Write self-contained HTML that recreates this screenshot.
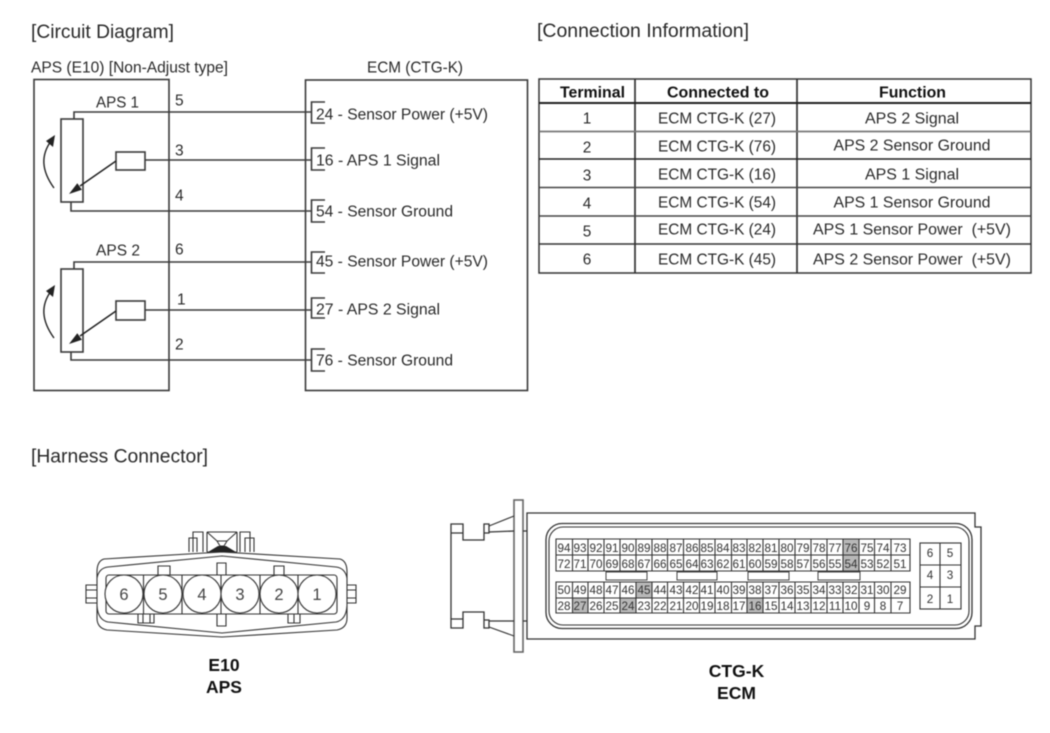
<!DOCTYPE html>
<html lang="en">
<head>
<meta charset="utf-8">
<title>APS Circuit Diagram</title>
<style>
html,body{margin:0;padding:0;background:#fff;width:1050px;height:733px;overflow:hidden}
svg{display:block;filter:blur(.45px)}
text{font-family:"Liberation Sans",sans-serif;fill:#2a2a2a}
.t{font-size:19px;transform:translateY(1px)}
.m{font-size:15.5px;transform:translateY(.7px)}
.h{font-size:15.5px;font-weight:bold;fill:#111;text-anchor:middle;transform:translateY(.7px)}
.c{font-size:15.4px;text-anchor:middle;transform:translateY(.7px)}
.n{font-size:11.7px;text-anchor:middle;fill:#333}
.d{font-size:16.5px;text-anchor:middle;fill:#444}
.b{font-size:17.5px;font-weight:bold;text-anchor:middle;fill:#111}
.l{fill:none;stroke:#333;stroke-width:1.3}
.w{fill:none;stroke:#3a3a3a;stroke-width:1.6}
.f{fill:none;stroke:#333;stroke-width:1.1}
</style>
</head>
<body>
<svg width="1050" height="733" viewBox="0 0 1050 733" xmlns="http://www.w3.org/2000/svg">
<rect width="1050" height="733" fill="#fff"/>

<!-- Headings -->
<text class="t" x="31" y="37" textLength="143" lengthAdjust="spacingAndGlyphs">[Circuit Diagram]</text>
<text class="t" x="537" y="36" textLength="212" lengthAdjust="spacingAndGlyphs">[Connection Information]</text>
<text class="t" x="31" y="461.5" textLength="177" lengthAdjust="spacingAndGlyphs">[Harness Connector]</text>
<text class="m" x="31" y="72" textLength="197" lengthAdjust="spacingAndGlyphs">APS (E10) [Non-Adjust type]</text>
<text class="m" x="367" y="72" textLength="96" lengthAdjust="spacingAndGlyphs">ECM (CTG-K)</text>

<!-- Circuit boxes -->
<rect x="34" y="79.5" width="135" height="311" class="w"/>
<rect x="305.5" y="80" width="222" height="310.5" class="w"/>

<!-- Wires -->
<path class="w" d="M74 119V112H311M145 160H311M71 202V211H311M74 269V262H311M145 310H311M71 352V360H311"/>

<!-- Pots and boxes -->
<rect x="61" y="119" width="22" height="83" class="w" fill="none"/>
<rect x="61" y="269" width="22" height="83" class="w" fill="none"/>
<rect x="116" y="152" width="29" height="18" class="w"/>
<rect x="116" y="301" width="29" height="19" class="w"/>

<!-- Wiper arrows -->
<path d="M116 161L80 186" stroke="#222" stroke-width="1.5" fill="none"/>
<polygon points="69,194 77.3,183.3 81.9,189.7" fill="#222"/>
<path d="M116 311L80 336" stroke="#222" stroke-width="1.5" fill="none"/>
<polygon points="69,344 77.3,333.3 81.9,339.7" fill="#222"/>

<!-- Curved arrows -->
<path d="M54 188C41 170 41 155 51 141" stroke="#222" stroke-width="1.4" fill="none"/>
<polygon points="55,135 53,147 46,141" fill="#222"/>
<path d="M54 338C41 320 41 305 51 291" stroke="#222" stroke-width="1.4" fill="none"/>
<polygon points="55,285 53,297 46,291" fill="#222"/>

<!-- Wire labels -->
<text class="m" x="96" y="107" textLength="43" lengthAdjust="spacingAndGlyphs">APS 1</text>
<text class="m" x="96" y="255" textLength="44" lengthAdjust="spacingAndGlyphs">APS 2</text>
<text class="m" x="175" y="105">5</text>
<text class="m" x="175" y="155">3</text>
<text class="m" x="175" y="200">4</text>
<text class="m" x="175" y="254">6</text>
<text class="m" x="177" y="304">1</text>
<text class="m" x="175" y="349">2</text>

<!-- ECM terminals -->
<path class="w" d="M325 102H311.5V123H325M325 148H311.5V170H325M325 200H311.5V222H325M325 252H311.5V273H325M325 298H311.5V318H325M325 349H311.5V371H325"/>
<text class="m" x="316" y="119" textLength="172" lengthAdjust="spacingAndGlyphs">24 - Sensor Power (+5V)</text>
<text class="m" x="316" y="165" textLength="124" lengthAdjust="spacingAndGlyphs">16 - APS 1 Signal</text>
<text class="m" x="316" y="216" textLength="137" lengthAdjust="spacingAndGlyphs">54 - Sensor Ground</text>
<text class="m" x="316" y="266" textLength="172" lengthAdjust="spacingAndGlyphs">45 - Sensor Power (+5V)</text>
<text class="m" x="316" y="314" textLength="124" lengthAdjust="spacingAndGlyphs">27 - APS 2 Signal</text>
<text class="m" x="316" y="365" textLength="137" lengthAdjust="spacingAndGlyphs">76 - Sensor Ground</text>

<!-- Table -->
<rect x="539" y="79" width="492" height="194" fill="none" stroke="#333" stroke-width="1.5"/>
<path d="M635 79V273M797 79V273" stroke="#333" stroke-width="1.7" fill="none"/>
<path d="M539 103H1031" stroke="#222" stroke-width="2.1"/>
<path d="M539 131.5H1031" stroke="#777" stroke-width="1.7"/>
<path d="M539 159H1031" stroke="#222" stroke-width="1.4"/>
<path d="M539 187.5H1031M539 216H1031" stroke="#444" stroke-width="1.4"/>
<path d="M539 244H1031" stroke="#333" stroke-width="1.6"/>
<text class="h" x="592.5" y="97" textLength="65" lengthAdjust="spacingAndGlyphs">Terminal</text>
<text class="h" x="718" y="97" textLength="102" lengthAdjust="spacingAndGlyphs">Connected to</text>
<text class="h" x="912.5" y="97" textLength="67" lengthAdjust="spacingAndGlyphs">Function</text>

<text class="c" x="587" y="123">1</text>
<text class="c" x="587" y="152">2</text>
<text class="c" x="587" y="180">3</text>
<text class="c" x="587" y="208">4</text>
<text class="c" x="587" y="236">5</text>
<text class="c" x="587" y="264">6</text>

<text class="c" x="717" y="123" textLength="118" lengthAdjust="spacingAndGlyphs">ECM CTG-K (27)</text>
<text class="c" x="717" y="151" textLength="118" lengthAdjust="spacingAndGlyphs">ECM CTG-K (76)</text>
<text class="c" x="717" y="179" textLength="118" lengthAdjust="spacingAndGlyphs">ECM CTG-K (16)</text>
<text class="c" x="717" y="207" textLength="118" lengthAdjust="spacingAndGlyphs">ECM CTG-K (54)</text>
<text class="c" x="717" y="234" textLength="118" lengthAdjust="spacingAndGlyphs">ECM CTG-K (24)</text>
<text class="c" x="717" y="264" textLength="118" lengthAdjust="spacingAndGlyphs">ECM CTG-K (45)</text>

<text class="c" x="912" y="123" textLength="94" lengthAdjust="spacingAndGlyphs">APS 2 Signal</text>
<text class="c" x="912" y="150" textLength="157" lengthAdjust="spacingAndGlyphs">APS 2 Sensor Ground</text>
<text class="c" x="912" y="179" textLength="94" lengthAdjust="spacingAndGlyphs">APS 1 Signal</text>
<text class="c" x="912" y="207" textLength="157" lengthAdjust="spacingAndGlyphs">APS 1 Sensor Ground</text>
<text class="c" x="912" y="234" textLength="198" lengthAdjust="spacingAndGlyphs" xml:space="preserve">APS 1 Sensor Power  (+5V)</text>
<text class="c" x="912" y="264" textLength="198" lengthAdjust="spacingAndGlyphs" xml:space="preserve">APS 2 Sensor Power  (+5V)</text>

<!-- E10 connector -->
<path class="f" d="M104 559L222 552L340 559Q347 561 347 572V618Q347 628 337 630L222 637L107 630Q97 628 97 618V572Q97 561 104 559Z"/>
<path class="f" d="M97 578Q99 568 108 567L222 556L336 567Q345 568 347 578"/>
<path class="f" d="M97 606Q98 620 108 622L222 633L336 622Q346 620 347 606"/>
<rect x="106" y="575" width="231" height="39" rx="3" class="f"/>
<path class="f" d="M143.5 575V614M182 575V614M221 575V614M260 575V614M298 575V614"/>
<path class="f" d="M158 575V566H170V575M274 575V566H284V575M217 575V563H226V575M217 614V626H226V614M138 614V623H150V614M143 614V623M145 623H154V614M288 614V623H300V614M294 614V623"/>
<path class="f" d="M97 585H86V603H97M86 590H97M86 598H97M347 585H356V603H347M347 590H356M347 598H356"/>
<path class="f" d="M193 552V532H203V552M189 552V538H197V552M250 552V532H240V552M254 552V538H245V552"/>
<path class="f" d="M207 532H237M207 532L217 541H227L237 532M217 541L220 546H224L227 541M207 552H237M207 532V552M237 532V552"/>
<polygon points="208,552 218,546 226,546 236,552" fill="#222"/>
<g fill="#fff" stroke="#333" stroke-width="1.1">
<circle cx="124" cy="594" r="19"/><circle cx="163" cy="594" r="19"/><circle cx="202" cy="594" r="19"/>
<circle cx="240" cy="594" r="19"/><circle cx="279" cy="594" r="19"/><circle cx="317" cy="594" r="19"/>
</g>
<text class="d" x="124" y="600">6</text><text class="d" x="163" y="600">5</text><text class="d" x="202" y="600">4</text>
<text class="d" x="240" y="600">3</text><text class="d" x="279" y="600">2</text><text class="d" x="317" y="600">1</text>
<text class="b" x="224" y="671">E10</text>
<text class="b" x="224" y="693">APS</text>

<!-- ECM connector body -->
<path class="l" d="M527 513H975V527H981V626H975V639H527Z"/>
<rect x="546" y="523.5" width="426" height="105" rx="16" class="l"/>
<rect x="549" y="527" width="420" height="98" rx="14" class="f"/>
<rect x="514" y="500" width="9" height="152" fill="none" stroke="#666" stroke-width="1.6"/>
<path class="l" d="M523 531H527M523 621H527"/>
<path class="l" d="M451 524H463V533H451ZM463 533V540H484V533M484 524H489V533H484ZM489 532L514 531M451 533V619"/>
<path class="l" d="M451 619H463V628H451ZM463 619V612H484V620M484 620H489V628H484ZM489 621L514 621"/>
<path class="f" d="M489 526L514 516M489 627L514 636"/>

<!-- Shaded pins -->
<g fill="#b8b8b8">
<rect x="843" y="539" width="16" height="32"/>
<rect x="636" y="582" width="16" height="16"/>
<rect x="572.5" y="598" width="15.5" height="15"/>
<rect x="620" y="598" width="16" height="15"/>
<rect x="747" y="598" width="16" height="15"/>
</g>

<!-- Pin grids -->
<path class="f" d="M556 539H910V571H556ZM556 555H910M556 582H910V613H556ZM556 598H910"/>
<path class="f" d="M572.5 539V571M588 539V571M604 539V571M620 539V571M636 539V571M652 539V571M667.5 539V571M683.5 539V571M699.5 539V571M715 539V571M731.5 539V571M747 539V571M763 539V571M779 539V571M795 539V571M811 539V571M827 539V571M843 539V571M859 539V571M874.5 539V571M891 539V571"/>
<path class="f" d="M572.5 582V613M588 582V613M604 582V613M620 582V613M636 582V613M652 582V613M667.5 582V613M683.5 582V613M699.5 582V613M715 582V613M731.5 582V613M747 582V613M763 582V613M779 582V613M795 582V613M811 582V613M827 582V613M843 582V613M859 582V613M874.5 582V613M891 582V613"/>
<g fill="#fff" stroke="#444" stroke-width="1">
<rect x="606" y="572" width="41" height="8"/><rect x="677" y="572" width="40" height="8"/>
<rect x="748" y="572" width="41" height="8"/><rect x="818" y="572" width="42" height="8"/>
</g>

<g class="n">
<text class="n" x="564" y="552">94</text><text class="n" x="580" y="552">93</text><text class="n" x="596" y="552">92</text><text class="n" x="612" y="552">91</text><text class="n" x="628" y="552">90</text><text class="n" x="644" y="552">89</text><text class="n" x="660" y="552">88</text><text class="n" x="676" y="552">87</text><text class="n" x="692" y="552">86</text><text class="n" x="707" y="552">85</text><text class="n" x="723" y="552">84</text><text class="n" x="739" y="552">83</text><text class="n" x="755" y="552">82</text><text class="n" x="771" y="552">81</text><text class="n" x="787" y="552">80</text><text class="n" x="803" y="552">79</text><text class="n" x="819" y="552">78</text><text class="n" x="835" y="552">77</text><text class="n" x="851" y="552">76</text><text class="n" x="867" y="552">75</text><text class="n" x="883" y="552">74</text><text class="n" x="900" y="552">73</text>
<text class="n" x="564" y="568">72</text><text class="n" x="580" y="568">71</text><text class="n" x="596" y="568">70</text><text class="n" x="612" y="568">69</text><text class="n" x="628" y="568">68</text><text class="n" x="644" y="568">67</text><text class="n" x="660" y="568">66</text><text class="n" x="676" y="568">65</text><text class="n" x="692" y="568">64</text><text class="n" x="707" y="568">63</text><text class="n" x="723" y="568">62</text><text class="n" x="739" y="568">61</text><text class="n" x="755" y="568">60</text><text class="n" x="771" y="568">59</text><text class="n" x="787" y="568">58</text><text class="n" x="803" y="568">57</text><text class="n" x="819" y="568">56</text><text class="n" x="835" y="568">55</text><text class="n" x="851" y="568">54</text><text class="n" x="867" y="568">53</text><text class="n" x="883" y="568">52</text><text class="n" x="900" y="568">51</text>
<text class="n" x="564" y="594">50</text><text class="n" x="580" y="594">49</text><text class="n" x="596" y="594">48</text><text class="n" x="612" y="594">47</text><text class="n" x="628" y="594">46</text><text class="n" x="644" y="594">45</text><text class="n" x="660" y="594">44</text><text class="n" x="676" y="594">43</text><text class="n" x="692" y="594">42</text><text class="n" x="707" y="594">41</text><text class="n" x="723" y="594">40</text><text class="n" x="739" y="594">39</text><text class="n" x="755" y="594">38</text><text class="n" x="771" y="594">37</text><text class="n" x="787" y="594">36</text><text class="n" x="803" y="594">35</text><text class="n" x="819" y="594">34</text><text class="n" x="835" y="594">33</text><text class="n" x="851" y="594">32</text><text class="n" x="867" y="594">31</text><text class="n" x="883" y="594">30</text><text class="n" x="900" y="594">29</text>
<text class="n" x="564" y="610">28</text><text class="n" x="580" y="610">27</text><text class="n" x="596" y="610">26</text><text class="n" x="612" y="610">25</text><text class="n" x="628" y="610">24</text><text class="n" x="644" y="610">23</text><text class="n" x="660" y="610">22</text><text class="n" x="676" y="610">21</text><text class="n" x="692" y="610">20</text><text class="n" x="707" y="610">19</text><text class="n" x="723" y="610">18</text><text class="n" x="739" y="610">17</text><text class="n" x="755" y="610">16</text><text class="n" x="771" y="610">15</text><text class="n" x="787" y="610">14</text><text class="n" x="803" y="610">13</text><text class="n" x="819" y="610">12</text><text class="n" x="835" y="610">11</text><text class="n" x="851" y="610">10</text><text class="n" x="867" y="610">9</text><text class="n" x="883" y="610">8</text><text class="n" x="900" y="610">7</text>
</g>

<!-- Small 6-pin block -->
<rect x="920" y="543" width="41" height="66" class="f"/>
<path class="f" d="M940 543V609M920 565H961M920 587H961"/>
<text class="n" x="930" y="557">6</text><text class="n" x="950" y="557">5</text>
<text class="n" x="930" y="579">4</text><text class="n" x="950" y="579">3</text>
<text class="n" x="930" y="603">2</text><text class="n" x="950" y="603">1</text>

<text class="b" x="736.5" y="677">CTG-K</text>
<text class="b" x="736.5" y="699">ECM</text>
</svg>
</body>
</html>
